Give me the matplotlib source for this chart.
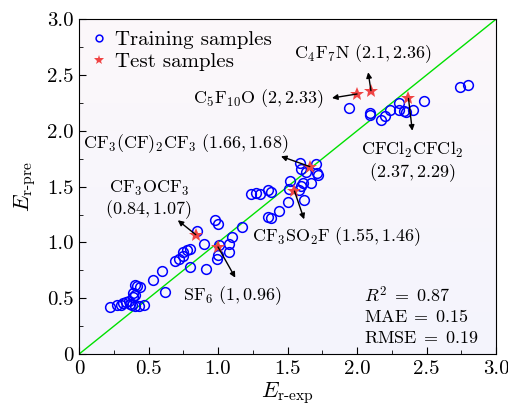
import numpy as np
import matplotlib
matplotlib.use('Agg')
import matplotlib.pyplot as plt
from matplotlib.ticker import FuncFormatter, MultipleLocator

plt.rcParams['font.family'] = 'serif'
plt.rcParams['font.serif'] = ['cmr10']
plt.rcParams['mathtext.fontset'] = 'cm'
plt.rcParams['axes.unicode_minus'] = False
plt.rcParams['axes.formatter.use_mathtext'] = True

# training samples (experimental, predicted)
train_exp = [0.22, 0.27, 0.30, 0.32, 0.34, 0.36, 0.38, 0.40, 0.43, 0.47,
             0.39, 0.40, 0.39, 0.40, 0.42, 0.44, 0.37, 0.53, 0.60, 0.62,
             0.69, 0.72, 0.75, 0.75, 0.78, 0.80, 0.80, 0.85, 0.90, 0.91,
             0.98, 1.00, 0.99, 1.00, 1.01, 1.08, 1.08, 1.10, 1.17, 1.24,
             1.27, 1.30, 1.36, 1.38, 1.36, 1.38, 1.44, 1.50, 1.51, 1.52,
             1.585, 1.60, 1.61, 1.62, 1.59, 1.60, 1.63, 1.67, 1.705, 1.71,
             1.72, 1.94, 2.09, 2.09, 2.17, 2.20, 2.24, 2.30, 2.30, 2.34,
             2.35, 2.40, 2.48, 2.74, 2.80]
train_pre = [0.42, 0.44, 0.44, 0.46, 0.47, 0.48, 0.44, 0.43, 0.43, 0.44,
             0.51, 0.53, 0.55, 0.62, 0.61, 0.60, 0.45, 0.66, 0.745, 0.56,
             0.835, 0.855, 0.88, 0.915, 0.93, 0.94, 0.78, 1.10, 0.985, 0.76,
             1.205, 1.17, 0.85, 0.89, 0.975, 0.915, 0.985, 1.05, 1.14, 1.43,
             1.44, 1.43, 1.47, 1.45, 1.23, 1.22, 1.28, 1.36, 1.48, 1.55,
             1.47, 1.51, 1.53, 1.38, 1.71, 1.66, 1.63, 1.53, 1.70, 1.62,
             1.60, 2.205, 2.16, 2.14, 2.095, 2.13, 2.19, 2.19, 2.25, 2.18,
             2.17, 2.19, 2.27, 2.39, 2.41]

# test samples
test_names = [r'CF_3(CF)_2CF_3', r'CF_3SO_2F', r'CF_3OCF_3', r'SF_6',
              r'C_4F_7N', r'C_5F_{10}O', r'CFCl_2CFCl_2']
test_exp = [1.66, 1.55, 0.84, 1.00, 2.10, 2.00, 2.37]
test_pre = [1.68, 1.46, 1.07, 0.96, 2.36, 2.33, 2.29]
test_exp_txt = ['1.66', '1.55', '0.84', '1', '2.1', '2', '2.37']
test_pre_txt = ['1.68', '1.46', '1.07', '0.96', '2.36', '2.33', '2.29']

stats_text = [r'$R^2 \;=\; 0.87$', r'$\mathrm{MAE} \;=\; 0.15$', r'$\mathrm{RMSE} \;=\; 0.19$']

fig = plt.figure(figsize=(5.08, 4.08), dpi=100)
ax = fig.add_axes([0.1555, 0.132, 0.821, 0.821])

# background gradient
grad = np.linspace(0, 1, 256).reshape(-1, 1)
top = np.array([252, 248, 250]) / 255.0
bot = np.array([244, 244, 253]) / 255.0
img = bot + (top - bot) * grad[..., None]
ax.imshow(img, extent=[0, 3, 0, 3], origin='lower', aspect='auto', zorder=0)

ax.plot([0, 3], [0, 3], color='#00e000', lw=1.0, zorder=1)
ax.plot(train_exp, train_pre, 'o', mfc='none', mec='#0000ff', ms=7, mew=1.1,
        label='Training samples', zorder=2)
ax.plot(test_exp, test_pre, '*', color='#f04444', ms=10, mew=0,
        label='Test samples', zorder=3)

fs = 13
arrow = dict(arrowstyle='-|>', color='k', lw=1.0, mutation_scale=8, shrinkA=0, shrinkB=2)

def lab(i):
    return r'$\mathrm{' + test_names[i] + r'}\ (' + test_exp_txt[i] + ', ' + test_pre_txt[i] + ')$'

def pt(i):
    return r'$(' + test_exp_txt[i] + ', ' + test_pre_txt[i] + ')$'

# CF3(CF)2CF3
ax.annotate('', xy=(1.434, 1.78), xytext=(test_exp[0], test_pre[0]), arrowprops=arrow)
ax.text(0.77, 1.889, lab(0), fontsize=fs, ha='center', va='center')
# CF3SO2F
ax.annotate('', xy=(1.626, 1.184), xytext=(test_exp[1], test_pre[1]), arrowprops=arrow)
ax.text(1.856, 1.05, lab(1), fontsize=fs, ha='center', va='center')
# CF3OCF3
ax.annotate('', xy=(0.695, 1.215), xytext=(test_exp[2], test_pre[2]), arrowprops=arrow)
ax.text(0.505, 1.483, r'$\mathrm{' + test_names[2] + '}$', fontsize=fs, ha='center', va='center')
ax.text(0.50, 1.295, pt(2), fontsize=fs, ha='center', va='center')
# SF6
ax.annotate('', xy=(1.134, 0.663), xytext=(test_exp[3], test_pre[3]), arrowprops=arrow)
ax.text(1.104, 0.52, lab(3), fontsize=fs, ha='center', va='center')
# C4F7N
ax.annotate('', xy=(2.077, 2.549), xytext=(test_exp[4], test_pre[4]), arrowprops=arrow)
ax.text(2.04, 2.69, lab(4), fontsize=fs, ha='center', va='center')
# C5F10O
ax.annotate('', xy=(1.80, 2.29), xytext=(test_exp[5], test_pre[5]), arrowprops=arrow)
ax.text(1.76, 2.289, lab(5), fontsize=fs, ha='right', va='center')
# CFCl2CFCl2
ax.annotate('', xy=(2.40, 1.976), xytext=(test_exp[6], test_pre[6]), arrowprops=arrow)
ax.text(2.40, 1.826, r'$\mathrm{' + test_names[6] + '}$', fontsize=fs, ha='center', va='center')
ax.text(2.40, 1.626, pt(6), fontsize=fs, ha='center', va='center')

stats_y = [0.528, 0.334, 0.146]
for s, yy in zip(stats_text, stats_y):
    ax.text(2.05, yy, s, fontsize=fs, ha='left', va='center')

ax.set_xlim(0, 3)
ax.set_ylim(0, 3)
fmt = FuncFormatter(lambda v, p: '0' if abs(v) < 1e-9 else '%.1f' % v)
ax.xaxis.set_major_locator(MultipleLocator(0.5))
ax.yaxis.set_major_locator(MultipleLocator(0.5))
ax.xaxis.set_minor_locator(MultipleLocator(0.25))
ax.yaxis.set_minor_locator(MultipleLocator(0.25))
ax.xaxis.set_major_formatter(fmt)
ax.yaxis.set_major_formatter(fmt)
ax.tick_params(which='both', direction='in', labelsize=15, pad=4)
ax.tick_params(which='major', length=5)
ax.tick_params(which='minor', length=3)

ax.set_xlabel(r'$E_{\mathrm{r\text{-}exp}}$', fontsize=16, labelpad=2)
ax.set_ylabel(r'$E_{\mathrm{r\text{-}pre}}$', fontsize=16, labelpad=6)

ax.legend(loc='upper left', frameon=False, fontsize=15, handletextpad=0.4,
          borderaxespad=0.15, labelspacing=0.15, handlelength=0.8, markerscale=0.7)

fig.savefig('out.png', dpi=100)
